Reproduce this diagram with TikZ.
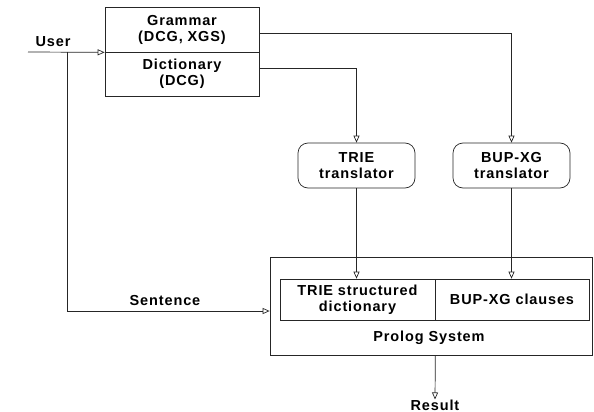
\documentclass[tikz,border=0pt]{standalone}
\usepackage{fontspec}
\setmainfont{Liberation Sans}[LetterSpace=6]
\usetikzlibrary{arrows.meta,calc}
\begin{document}
\begin{tikzpicture}[x=1pt,y=-1pt,
  line/.style={line width=0.7pt,draw=black!85},
  arr/.style={line, -{Triangle[open,length=7pt,width=6pt]}},
  lbl/.style={font=\fontsize{14.5}{16}\selectfont\bfseries, align=center, inner sep=0pt},
  sqbox/.style={line, minimum width=154pt, minimum height=45pt, lbl},
  trans/.style={line, rounded corners=10pt, minimum width=117pt, minimum height=45pt, lbl},
  inbox/.style={line, minimum width=155pt, minimum height=41pt, lbl}]
\useasboundingbox (0,0) rectangle (594,412);
% top boxes
\node[sqbox, minimum height=45pt] (gram) at (182,29.5) {Grammar\\(DCG, XGS)};
\node[sqbox, minimum height=44pt] (dict) at (182,74) {Dictionary\\(DCG)};
% translators
\node[trans] (trie) at (356.5,165.5) {TRIE\\translator};
\node[trans] (bup) at (511.5,165.5) {BUP-XG\\translator};
% prolog system
\node[line, minimum width=322pt, minimum height=98pt, inner sep=0pt] (prolog) at (431,306) {};
\node[inbox] (tsd) at (357.5,299.5) {TRIE structured\\dictionary};
\node[inbox, minimum width=154pt] (bupc) at (512,299.5) {BUP-XG clauses};
\node[lbl] (ps) at (429,338) {Prolog System};
% texts
\node[lbl] (user) at (53,42) {User};
\node[lbl] (sent) at (165,301) {Sentence};
\node[lbl] (result) at (435,405) {Result};
% coordinates
\coordinate (ustart) at (28,52);
\coordinate (ujoint) at (67,52);
\coordinate (sentrow) at (0,311);
% connectors
\draw[arr] (ustart) -- (gram.south west);
\draw[arr] (ujoint) |- (prolog.west |- sentrow);
\draw[arr] ([yshift=-4pt]gram.east) -| (bup.north);
\draw[arr] ([yshift=6pt]dict.east) -| (trie.north);
\draw[arr] (trie.south) -- (trie.south |- tsd.north);
\draw[arr] (bup.south) -- (bup.south |- bupc.north);
\draw[arr] (tsd.east |- prolog.south) -- (result.north);
\end{tikzpicture}
\end{document}
